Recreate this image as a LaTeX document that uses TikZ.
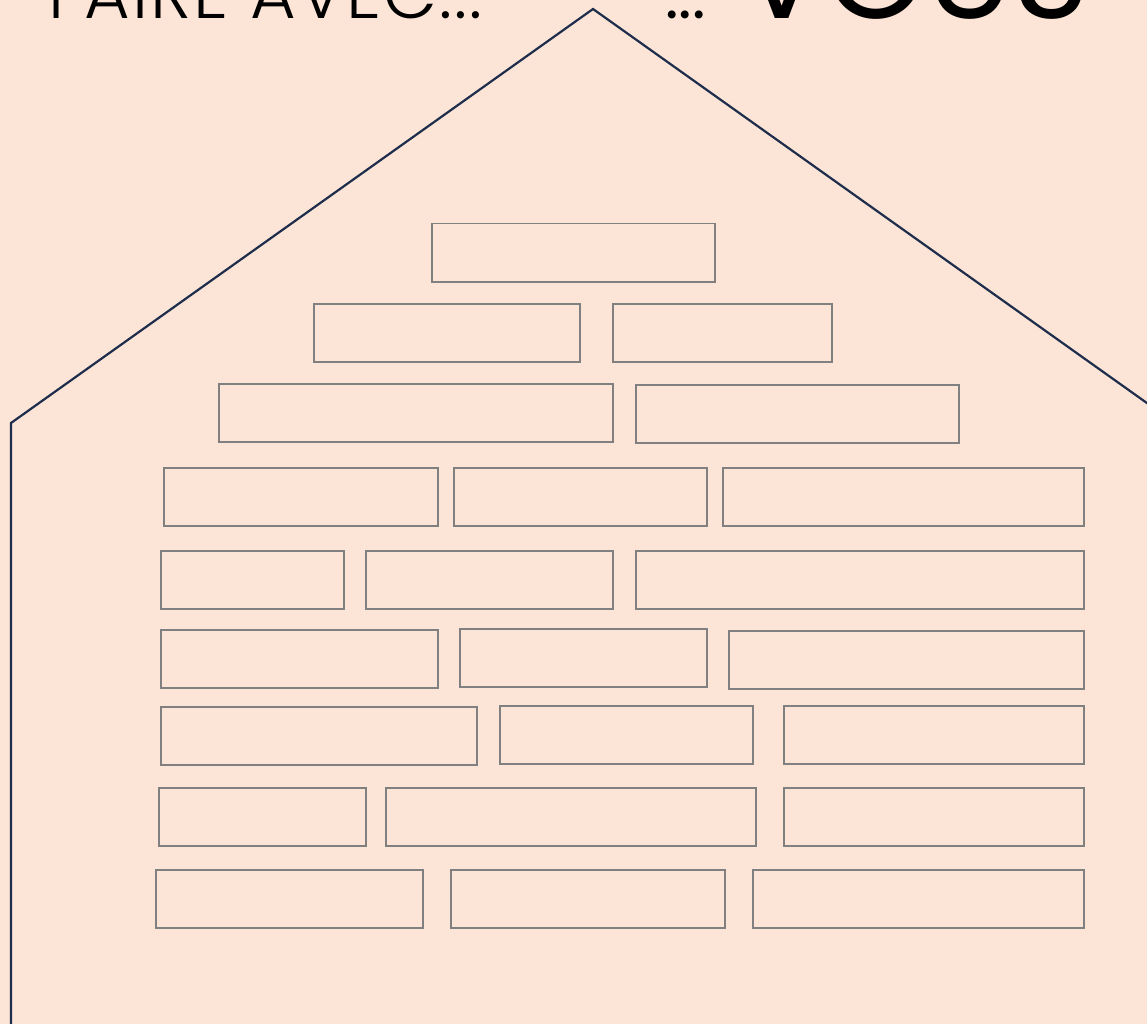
\documentclass[tikz,border=0pt]{standalone}
\usepackage{fontspec}
\setmainfont{Poppins}
\IfFontExistsTF{Poppins Light}{\newfontfamily\thinfont[LetterSpace=3]{Poppins Light}}{\newfontfamily\thinfont[LetterSpace=3]{Poppins}}
\usetikzlibrary{positioning}
\definecolor{wallpink}{RGB}{252,229,215}
\definecolor{roofnavy}{RGB}{31,45,77}
\definecolor{brickgray}{RGB}{128,128,128}

\begin{document}
\begin{tikzpicture}[x=1pt, y=-1pt,
    brick/.style={draw=brickgray, line width=1.5pt, inner sep=0pt, anchor=north west, minimum height=58pt},
    title/.style={anchor=base west, inner sep=0pt, text=black},
]
    \useasboundingbox (0,0) rectangle (1147,1024);
    \clip (0,0) rectangle (1147,1024);
    \fill[wallpink] (0,0) rectangle (1147,1024);
    % Title line (cut by the top edge)
    \node[title, font=\thinfont\fontsize{70}{70}\selectfont] (faire) at (48,19) {FAIRE AVEC...};
    \node[title, font=\fontsize{64}{64}\selectfont] (dots) at (665,19) {...};
    \node[title, font=\fontsize{129}{129}\selectfont] (vous) at (738,19) {VOUS};
    % House outline
    \coordinate (apex) at (593,9);
    \coordinate (eaveL) at (11,423);
    \coordinate (eaveR) at (1175,423);
    \coordinate (footL) at (11,1040);
    \coordinate (footR) at (1175,1040);
    \draw[roofnavy, line width=2.2pt] (footL) -- (eaveL) -- (apex) -- (eaveR) -- (footR);
    % Bricks
    \foreach \x/\y/\w [count=\n] in {
        431/223/283,
        313/303/266, 612/303/219,
        218/383/394, 635/384/323,
        163/467/274, 453/467/253, 722/467/361,
        160/550/183, 365/550/247, 635/550/448,
        160/629/277, 459/628/247, 728/630/355,
        160/706/316, 499/705/253, 783/705/300,
        158/787/207, 385/787/370, 783/787/300,
        155/869/267, 450/869/274, 752/869/331} {
        \node[brick, minimum width=\w pt] (brick\n) at (\x,\y) {};
    }
\end{tikzpicture}
\end{document}
